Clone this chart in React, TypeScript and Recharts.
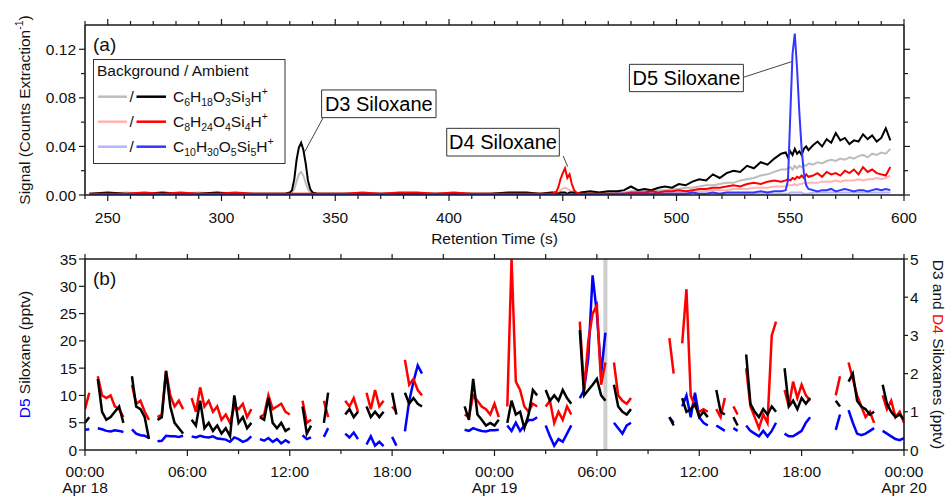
import React from 'react';
import { LineChart, Line, XAxis, YAxis, ReferenceLine, ReferenceArea } from 'recharts';

const FONT = '"Liberation Sans", Arial, Helvetica, sans-serif';
const INK = '#1a1a1a';
const FS = 15.5;

// ---------- (a) chromatogram: retention time (s) vs signal ----------
const retentionTime = [
  242, 250, 258, 266, 274, 282, 290, 298, 306, 314, 322, 328,
  330, 331, 332, 333, 334, 335, 336, 337, 338, 339, 340,
  342, 346,
  354, 362, 370, 378, 386, 394, 402, 410, 418, 426, 434,
  440, 445,
  447, 448, 449, 450, 451, 452, 453, 454, 455, 456,
  458, 462, 466, 470,
  474, 477, 480, 483, 486, 489, 492, 495, 498, 501, 504, 507, 510, 513, 516, 519, 522, 525, 528, 531, 534, 537, 540, 543, 546,
  548, 549, 550, 551, 552, 553, 554, 555, 556, 557, 558,
  560, 562, 564, 566, 568, 570, 572, 574, 576, 578, 580, 582, 584, 586, 588, 590, 592, 594,
];

const d3Background = [
  0.001, 0.001, 0.002, 0.001, 0.001, 0.001, 0.002, 0.001, 0.001, 0.001, 0.001, 0.001,
  0.001, 0.002, 0.005, 0.011, 0.017, 0.019, 0.016, 0.010, 0.005, 0.002, 0.001,
  0.001, 0.001,
  0.001, 0.001, 0.001, 0.001, 0.001, 0.001, 0.001, 0.001, 0.001, 0.001, 0.001,
  0.001, 0.001,
  0.001, 0.001, 0.001, 0.001, 0.001, 0.001, 0.001, 0.001, 0.001, 0.001,
  0.002, 0.002, 0.002, 0.002,
  0.002, 0.002, 0.003, 0.003, 0.003, 0.004, 0.004, 0.004, 0.005, 0.005, 0.006, 0.006, 0.007, 0.008, 0.008, 0.009, 0.010, 0.010, 0.012, 0.013, 0.014, 0.016, 0.017, 0.019, 0.021,
  0.021, 0.022, 0.023, 0.021, 0.024, 0.022, 0.024, 0.023, 0.025, 0.024, 0.026,
  0.025, 0.027, 0.026, 0.028, 0.029, 0.028, 0.030, 0.029, 0.031, 0.030, 0.032, 0.033, 0.031, 0.034, 0.033, 0.035, 0.034, 0.038,
];

const d3Ambient = [
  0.001, 0.002, 0.001, 0.001, 0.002, 0.001, 0.001, 0.002, 0.001, 0.001, 0.001, 0.001,
  0.002, 0.004, 0.013, 0.029, 0.039, 0.043, 0.037, 0.026, 0.012, 0.005, 0.002,
  0.001, 0.001,
  0.001, 0.001, 0.001, 0.001, 0.001, 0.001, 0.001, 0.001, 0.001, 0.002, 0.002,
  0.001, 0.002,
  0.002, 0.001, 0.002, 0.002, 0.002, 0.001, 0.002, 0.002, 0.002, 0.001,
  0.002, 0.003, 0.002, 0.003,
  0.003, 0.004, 0.007, 0.004, 0.005, 0.004, 0.006, 0.007, 0.006, 0.009, 0.008, 0.011, 0.013, 0.012, 0.017, 0.014, 0.018, 0.020, 0.019, 0.024, 0.022, 0.027, 0.025, 0.030, 0.034,
  0.035, 0.031, 0.036, 0.033, 0.038, 0.034, 0.036, 0.033, 0.038, 0.040, 0.037,
  0.041, 0.044, 0.040, 0.046, 0.043, 0.051, 0.045, 0.047, 0.042, 0.045, 0.044, 0.050, 0.046, 0.049, 0.044, 0.047, 0.055, 0.045,
];

const d4Background = [
  0.001, 0.001, 0.001, 0.001, 0.001, 0.001, 0.001, 0.001, 0.001, 0.001, 0.001, 0.001,
  0.001, 0.001, 0.001, 0.001, 0.001, 0.001, 0.001, 0.001, 0.001, 0.001, 0.001,
  0.001, 0.001,
  0.001, 0.001, 0.001, 0.001, 0.001, 0.001, 0.001, 0.001, 0.001, 0.001, 0.001,
  0.001, 0.001,
  0.001, 0.002, 0.004, 0.005, 0.006, 0.005, 0.004, 0.003, 0.002, 0.001,
  0.001, 0.001, 0.001, 0.001,
  0.001, 0.001, 0.001, 0.001, 0.001, 0.002, 0.002, 0.002, 0.002, 0.002, 0.003, 0.003, 0.003, 0.003, 0.004, 0.004, 0.004, 0.005, 0.005, 0.005, 0.006, 0.006, 0.006, 0.007, 0.007,
  0.007, 0.008, 0.008, 0.008, 0.009, 0.008, 0.009, 0.009, 0.010, 0.009, 0.010,
  0.010, 0.010, 0.011, 0.011, 0.011, 0.012, 0.011, 0.012, 0.012, 0.012, 0.013, 0.012, 0.013, 0.013, 0.014, 0.013, 0.014, 0.016,
];

const d4Ambient = [
  0.001, 0.001, 0.001, 0.002, 0.001, 0.002, 0.001, 0.001, 0.002, 0.001, 0.001, 0.001,
  0.001, 0.001, 0.001, 0.001, 0.001, 0.001, 0.001, 0.001, 0.001, 0.001, 0.001,
  0.001, 0.001,
  0.001, 0.002, 0.001, 0.002, 0.002, 0.001, 0.002, 0.001, 0.001, 0.001, 0.001,
  0.001, 0.001,
  0.002, 0.006, 0.013, 0.018, 0.022, 0.014, 0.017, 0.009, 0.004, 0.002,
  0.001, 0.001, 0.001, 0.001,
  0.001, 0.001, 0.002, 0.002, 0.002, 0.003, 0.002, 0.003, 0.003, 0.004, 0.003, 0.004, 0.005, 0.005, 0.006, 0.006, 0.007, 0.008, 0.007, 0.009, 0.010, 0.009, 0.011, 0.012, 0.011,
  0.012, 0.013, 0.012, 0.014, 0.013, 0.015, 0.014, 0.016, 0.014, 0.017, 0.015,
  0.016, 0.018, 0.015, 0.019, 0.017, 0.018, 0.016, 0.020, 0.018, 0.021, 0.017, 0.023, 0.019, 0.021, 0.018, 0.017, 0.016, 0.023,
];

const d5Background = [
  0.0005, 0.0005, 0.0005, 0.0005, 0.0005, 0.0005, 0.0005, 0.0005, 0.0005, 0.0005, 0.0005, 0.0005,
  0.0005, 0.0005, 0.0005, 0.0005, 0.0005, 0.0005, 0.0005, 0.0005, 0.0005, 0.0005, 0.0005,
  0.0005, 0.0005,
  0.0005, 0.0005, 0.0005, 0.0005, 0.0005, 0.0005, 0.0005, 0.0005, 0.0005, 0.0005, 0.0005,
  0.0005, 0.0005,
  0.0005, 0.0005, 0.0005, 0.0005, 0.0005, 0.0005, 0.0005, 0.0005, 0.0005, 0.0005,
  0.0005, 0.0005, 0.0005, 0.0005,
  0.001, 0.001, 0.001, 0.001, 0.001, 0.001, 0.001, 0.001, 0.001, 0.001, 0.001, 0.001, 0.001, 0.001, 0.001, 0.001, 0.001, 0.001, 0.001, 0.001, 0.001, 0.001, 0.001, 0.001, 0.001,
  0.001, 0.001, 0.002, 0.002, 0.002, 0.002, 0.002, 0.002, 0.001, 0.001, 0.001,
  0.002, 0.002, 0.002, 0.002, 0.002, 0.002, 0.002, 0.002, 0.002, 0.002, 0.002, 0.002, 0.002, 0.002, 0.002, 0.002, 0.002, 0.002,
];

const d5Ambient = [
  0.0005, 0.0005, 0.0005, 0.0005, 0.0005, 0.0005, 0.0005, 0.0005, 0.0005, 0.0005, 0.0005, 0.0005,
  0.0005, 0.0005, 0.0005, 0.0005, 0.0005, 0.0005, 0.0005, 0.0005, 0.0005, 0.0005, 0.0005,
  0.0005, 0.0005,
  0.0005, 0.0005, 0.0005, 0.0005, 0.0005, 0.0005, 0.0005, 0.0005, 0.0005, 0.0005, 0.0005,
  0.0005, 0.0005,
  0.0005, 0.0005, 0.0005, 0.0005, 0.0005, 0.0005, 0.0005, 0.0005, 0.0005, 0.0005,
  0.0005, 0.0005, 0.0005, 0.0005,
  0.001, 0.001, 0.001, 0.001, 0.001, 0.001, 0.001, 0.001, 0.001, 0.001, 0.001, 0.002, 0.001, 0.001, 0.002, 0.001, 0.002, 0.002, 0.002, 0.002, 0.002, 0.003, 0.002, 0.003, 0.003,
  0.004, 0.012, 0.065, 0.116, 0.133, 0.104, 0.068, 0.038, 0.018, 0.008, 0.005,
  0.004, 0.003, 0.004, 0.004, 0.005, 0.003, 0.004, 0.005, 0.004, 0.003, 0.004, 0.004, 0.003, 0.004, 0.005, 0.004, 0.005, 0.004,
];

const rtTicks = [
  240, 250, 260, 270, 280, 290, 300, 310, 320, 330, 340, 350, 360, 370, 380, 390, 400, 410, 420,
  430, 440, 450, 460, 470, 480, 490, 500, 510, 520, 530, 540, 550, 560, 570, 580, 590, 600,
];
const signalTicks = [0, 0.02, 0.04, 0.06, 0.08, 0.1, 0.12];
const signalLabels = ['0.00', '', '0.04', '', '0.08', '', '0.12'];

// ---------- (b) ambient siloxanes, 15 min samples from Apr 18 00:00 ----------
// D5 in pptv on the left axis
const d5Pptv = [
  3.7, 3.8, null, 4.0,
  3.8, 3.5, 3.4, 3.6,
  3.5, 3.3, null, 3.8,
  3.0, 2.7, 2.6, 2.2,
  null, 1.6, 1.7, 2.6,
  2.5, 2.5, 2.4, 2.6,
  null, 2.5, 2.3, 2.6,
  2.4, 2.3, 2.5, 2.1,
  2.0, 1.9, 1.5, 2.3,
  2.0, 1.5, 1.8, 2.5,
  null, 2.0, 1.7, 2.2,
  1.5, 2.0, 1.2, 1.8,
  1.3, null, null, 2.7,
  2.0, 2.3, null, null,
  2.4, 4.0, null, null,
  null, 3.0, 2.3, 3.2,
  2.0, null, 1.0, 2.5,
  0.8, 1.5, 0.7, null,
  2.4, 0.8, null, 3.4,
  9.0, 12.5, 15.5, 14.0,
  null, null, null, null,
  null, null, null, null,
  null, 3.7, 3.5, 4.0,
  3.7, 3.5, 3.4, 3.6,
  3.6, 3.7, null, 4.5,
  3.5, 5.0, 3.5, 4.5,
  5.5, 5.5, 6.0, null,
  4.5, 2.5, 0.8, 2.0,
  1.5, 3.0, 4.5, null,
  9.5, 11.0, 17.0, 32.0,
  25.0, 14.0, 21.5, null,
  5.0, 4.0, 3.0, 4.5,
  5.0, null, null, null,
  null, null, null, null,
  null, 6.0, 5.0, null,
  8.0, 10.0, 6.0, 10.5,
  6.0, 5.0, 4.5, null,
  4.5, 4.0, 3.5, null,
  4.0, 3.5, null, 4.5,
  3.5, 3.0, 2.5, 3.5,
  2.5, 3.5, 5.0, null,
  3.0, 2.5, 2.5, 3.0,
  3.5, 5.0, 6.0, null,
  null, null, null, null,
  3.7, 6.5, null, 7.3,
  5.0, 3.0, 2.7, 3.0,
  3.5, 4.0, null, 3.5,
  3.0, 2.5, 2.0, 1.8,
  2.2,
];

// D4 in pptv on the right axis
const d4Pptv = [
  1.07, 1.5, null, 1.93,
  1.43, 1.36, 1.43, 1.14,
  1.07, 0.86, null, 1.71,
  1.21, 1.29, 1.0, 0.79,
  null, 0.86, 0.93, 2.07,
  1.43, 1.14, 1.29, 1.07,
  null, 1.36, 1.0, 1.64,
  1.14, 1.29, 1.0, 1.14,
  0.79, 0.93, 0.71, 1.14,
  1.07, 1.21, 0.86, 1.07,
  null, 0.86, 0.93, 1.43,
  1.07, 1.14, 1.21, 1.0,
  0.93, null, null, 1.29,
  0.71, 0.79, null, null,
  1.29, 0.86, null, null,
  null, 1.29, 1.14, 1.36,
  1.0, null, 1.5, 1.07,
  1.57, 1.14, 1.29, null,
  1.14, 1.0, null, 2.36,
  1.71, 1.86, 1.57, 1.43,
  null, null, null, null,
  null, null, null, null,
  null, 0.93, 0.86, 1.43,
  1.29, 1.14, 1.07, 0.93,
  1.21, 0.86, null, 1.14,
  5.0, 1.79, 1.57, 1.14,
  1.0, 1.21, 1.14, null,
  1.14, 1.29, 0.71, 1.0,
  0.79, 1.14, 0.93, null,
  3.36, 1.57, 2.86, 3.57,
  3.79, 1.71, 2.29, null,
  2.29, 1.43, 1.29, 1.21,
  1.36, null, null, null,
  null, null, null, null,
  null, 2.93, 2.0, null,
  2.79, 4.21, 1.43, 1.14,
  1.0, 1.07, 1.0, null,
  1.07, 0.86, 1.36, null,
  1.14, 0.93, null, 2.14,
  1.14, 0.86, 0.57, 0.93,
  0.71, 3.0, 3.36, null,
  1.57, 1.14, 1.79, 1.36,
  1.71, 1.43, 1.29, null,
  null, null, null, null,
  1.43, 1.93, null, 2.29,
  1.86, 1.43, 1.14, 0.86,
  1.0, 0.71, null, 1.43,
  1.07, 1.29, 0.86, 1.0,
  0.71,
];

// D3 in pptv on the right axis
const d3Pptv = [
  0.71, 0.86, null, 1.86,
  1.0, 0.79, 0.86, 1.0,
  1.14, 0.71, null, 1.93,
  1.14, 1.07, 0.86, 0.29,
  null, 0.79, 0.86, 2.07,
  1.14, 0.71, 0.57, 0.43,
  null, 0.79, 0.64, 1.29,
  0.57, 0.71, 0.5, 0.64,
  0.43, 0.57, 0.36, 1.43,
  0.71, 0.86, 0.57, 0.71,
  null, 0.86, 0.79, 1.36,
  0.71, 0.57, 0.71, 0.5,
  0.57, null, null, 1.14,
  0.43, 0.64, null, null,
  0.71, 1.5, null, null,
  null, 0.93, 1.07, 0.86,
  1.0, null, 1.14, 0.86,
  1.0, 0.86, 1.0, null,
  1.5, 0.93, null, 1.5,
  1.21, 1.36, 1.21, 1.14,
  null, null, null, null,
  null, null, null, null,
  null, 1.14, 0.79, 1.86,
  0.93, 0.79, 0.64, 0.71,
  0.64, 0.79, null, 0.71,
  1.29, 0.93, 1.0, 0.57,
  0.93, 1.57, 1.43, null,
  1.57, 1.29, 1.43, 1.29,
  1.57, 1.36, 1.21, null,
  3.14, 1.43, 1.57, 1.71,
  1.86, 1.43, 1.29, null,
  1.71, 1.14, 1.0, 0.93,
  1.07, null, null, null,
  null, null, null, null,
  null, 0.86, 0.64, null,
  1.36, 1.0, 1.07, 1.21,
  0.86, 1.0, 0.86, null,
  1.57, 1.0, 0.93, null,
  0.86, 0.64, null, 2.5,
  1.21, 1.0, 0.86, 1.07,
  0.93, 1.14, 1.0, null,
  2.14, 1.14, 1.29, 1.07,
  1.36, 1.21, 1.36, null,
  null, null, null, null,
  1.29, 1.14, null, 1.79,
  2.0, 1.29, 1.14, 1.07,
  0.93, 1.0, null, 1.71,
  1.21, 1.0, 0.86, 0.93,
  0.79,
];

const hourTicks = [0, 3, 6, 9, 12, 15, 18, 21, 24, 27, 30, 33, 36, 39, 42, 45, 48];
const clockLabels: Record<number, string> = {
  0: '00:00', 6: '06:00', 12: '12:00', 18: '18:00', 24: '00:00',
  30: '06:00', 36: '12:00', 42: '18:00', 48: '00:00',
};
const dayLabels: Record<number, string> = { 0: 'Apr 18', 24: 'Apr 19', 48: 'Apr 20' };
const d5Ticks = [0, 5, 10, 15, 20, 25, 30, 35];
const d3d4Ticks = [0, 1, 2, 3, 4, 5];
const grayBarHour = 30.5;

const C = {
  d3Bg: '#bdbdbd', d3: '#000000',
  d4Bg: '#ffb4b4', d4: '#ff0000',
  d5Bg: '#b4b4ff', d5: '#3535ff',
};

const chromData = retentionTime.map((rt, i) => ({
  rt,
  d3Bg: d3Background[i], d3: d3Ambient[i],
  d4Bg: d4Background[i], d4: d4Ambient[i],
  d5Bg: d5Background[i], d5: d5Ambient[i],
}));

const ambientData = d5Pptv.map((v, i) => ({ hour: i * 0.25, d5: v, d4: d4Pptv[i], d3: d3Pptv[i] }));

const axisLine = { stroke: INK, strokeWidth: 1.6 };
const txt = { fontFamily: FONT, fontSize: FS, fill: '#111' };

// ----- tick renderers -----
const rtBottomTick = (p: any) => {
  const v = p.payload.value;
  const major = v % 50 === 0;
  return (
    <g>
      <line x1={p.x} x2={p.x} y1={p.y} y2={p.y + (major ? 6 : 4)} stroke={INK} strokeWidth={1.2} />
      {major && <text {...txt} x={p.x} y={p.y + 28} textAnchor="middle">{v}</text>}
    </g>
  );
};
const rtTopTick = (p: any) => {
  const major = p.payload.value % 50 === 0;
  return <line x1={p.x} x2={p.x} y1={p.y} y2={p.y - (major ? 6 : 4)} stroke={INK} strokeWidth={1.2} />;
};
const signalLeftTick = (p: any) => {
  const label = signalLabels[p.index];
  return (
    <g>
      <line x1={p.x} x2={p.x - (label ? 6 : 4)} y1={p.y} y2={p.y} stroke={INK} strokeWidth={1.2} />
      {label && <text {...txt} x={p.x - 9} y={p.y + 5.5} textAnchor="end">{label}</text>}
    </g>
  );
};
const signalRightTick = (p: any) => {
  const label = signalLabels[p.index];
  return <line x1={p.x} x2={p.x + (label ? 6 : 4)} y1={p.y} y2={p.y} stroke={INK} strokeWidth={1.2} />;
};
const hourBottomTick = (p: any) => {
  const v = p.payload.value;
  const clock = clockLabels[v];
  const day = dayLabels[v];
  return (
    <g>
      <line x1={p.x} x2={p.x} y1={p.y} y2={p.y + (clock ? 6 : 4)} stroke={INK} strokeWidth={1.2} />
      {clock && <text {...txt} x={p.x} y={p.y + 27} textAnchor="middle">{clock}</text>}
      {day && <text {...txt} x={p.x} y={p.y + 43} textAnchor="middle">{day}</text>}
    </g>
  );
};
const hourTopTick = (p: any) => (
  <line x1={p.x} x2={p.x} y1={p.y} y2={p.y - 5} stroke={INK} strokeWidth={1.2} />
);
const d5LeftTick = (p: any) => (
  <g>
    <line x1={p.x} x2={p.x - 6} y1={p.y} y2={p.y} stroke={INK} strokeWidth={1.2} />
    <text {...txt} x={p.x - 8} y={p.y + 5.5} textAnchor="end">{p.payload.value}</text>
  </g>
);
const d3d4RightTick = (p: any) => (
  <g>
    <line x1={p.x} x2={p.x + 4} y1={p.y} y2={p.y} stroke={INK} strokeWidth={1.2} />
    <text {...txt} x={p.x + 6} y={p.y + 5.5} textAnchor="start">{p.payload.value}</text>
  </g>
);

const noAutoTick = { tickSize: 0, tickMargin: 0, tickLine: false, interval: 0 as const, allowDataOverflow: true };

// ----- chemical formula with sub/superscripts -----
type Part = [string, 'n' | 'sub' | 'sup'];
const formulaD3: Part[] = [['C', 'n'], ['6', 'sub'], ['H', 'n'], ['18', 'sub'], ['O', 'n'], ['3', 'sub'], ['Si', 'n'], ['3', 'sub'], ['H', 'n'], ['+', 'sup']];
const formulaD4: Part[] = [['C', 'n'], ['8', 'sub'], ['H', 'n'], ['24', 'sub'], ['O', 'n'], ['4', 'sub'], ['Si', 'n'], ['4', 'sub'], ['H', 'n'], ['+', 'sup']];
const formulaD5: Part[] = [['C', 'n'], ['10', 'sub'], ['H', 'n'], ['30', 'sub'], ['O', 'n'], ['5', 'sub'], ['Si', 'n'], ['5', 'sub'], ['H', 'n'], ['+', 'sup']];

function Formula({ x, y, parts }: { x: number; y: number; parts: Part[] }) {
  let off = 0;
  return (
    <text x={x} y={y} fontFamily={FONT} fontSize={FS} fill="#111">
      {parts.map(([t, k], i) => {
        const target = k === 'sub' ? 4 : k === 'sup' ? -7 : 0;
        const dy = target - off;
        off = target;
        return <tspan key={i} dy={dy} fontSize={k === 'n' ? FS : 10.5}>{t}</tspan>;
      })}
    </text>
  );
}

const legendRows = [
  { bg: C.d3Bg, amb: C.d3, parts: formulaD3 },
  { bg: C.d4Bg, amb: C.d4, parts: formulaD4 },
  { bg: C.d5Bg, amb: C.d5, parts: formulaD5 },
];

// annotation boxes in data coordinates (retention time, signal)
const annotations = [
  { text: 'D3 Siloxane', x1: 344.0, x2: 394.3, y1: 0.0637, y2: 0.0865, from: { x: 344.7, y: 0.0637 }, to: { x: 336.6, y: 0.0357 } },
  { text: 'D4 Siloxane', x1: 399.0, x2: 448.5, y1: 0.0321, y2: 0.0549, from: { x: 450.2, y: 0.0321 }, to: { x: 452.2, y: 0.0233 } },
  { text: 'D5 Siloxane', x1: 479.3, x2: 529.4, y1: 0.0851, y2: 0.1076, from: { x: 529.4, y: 0.0969 }, to: { x: 550.6, y: 0.1098 } },
];

function Chromatogram() {
  const series = [
    { key: 'd3Bg', color: C.d3Bg }, { key: 'd4Bg', color: C.d4Bg }, { key: 'd5Bg', color: C.d5Bg },
    { key: 'd3', color: C.d3 }, { key: 'd4', color: C.d4 }, { key: 'd5', color: C.d5 },
  ];
  return (
    <LineChart width={947} height={250} data={chromData} margin={{ top: 24, right: 42, bottom: 54, left: 84 }}>
      <XAxis xAxisId="b" dataKey="rt" type="number" domain={[240, 600]} ticks={rtTicks} height={1}
        axisLine={axisLine} tick={rtBottomTick} {...noAutoTick} />
      <XAxis xAxisId="t" orientation="top" dataKey="rt" type="number" domain={[240, 600]} ticks={rtTicks} height={1}
        axisLine={axisLine} tick={rtTopTick} {...noAutoTick} />
      <YAxis yAxisId="l" type="number" domain={[0, 0.14]} ticks={signalTicks} width={1}
        axisLine={axisLine} tick={signalLeftTick} {...noAutoTick} />
      <YAxis yAxisId="r" orientation="right" type="number" domain={[0, 0.14]} ticks={signalTicks} width={1}
        axisLine={axisLine} tick={signalRightTick} {...noAutoTick} />
      {annotations.map((a) => (
        <ReferenceArea key={a.text} xAxisId="b" yAxisId="l" x1={a.x1} x2={a.x2} y1={a.y1} y2={a.y2}
          fill="#fff" fillOpacity={1} stroke="#333" strokeWidth={1}
          label={{ value: a.text, position: 'center', fontSize: 20, fill: '#000', fontFamily: FONT }} />
      ))}
      {annotations.map((a) => (
        <ReferenceLine key={a.text + '-l'} xAxisId="b" yAxisId="l" segment={[a.from, a.to]} stroke="#444" strokeWidth={1} />
      ))}
      {series.map((s) => (
        <Line key={s.key} xAxisId="b" yAxisId="l" dataKey={s.key} type="linear" stroke={s.color}
          strokeWidth={2} dot={false} activeDot={false} isAnimationActive={false} />
      ))}
    </LineChart>
  );
}

function Ambient() {
  return (
    <LineChart width={947} height={249} data={ambientData} margin={{ top: 8, right: 42, bottom: 48, left: 84 }}>
      <XAxis xAxisId="b" dataKey="hour" type="number" domain={[0, 48]} ticks={hourTicks} height={1}
        axisLine={axisLine} tick={hourBottomTick} {...noAutoTick} />
      <XAxis xAxisId="t" orientation="top" dataKey="hour" type="number" domain={[0, 48]} ticks={hourTicks} height={1}
        axisLine={axisLine} tick={hourTopTick} {...noAutoTick} />
      <YAxis yAxisId="l" type="number" domain={[0, 35]} ticks={d5Ticks} width={1}
        axisLine={axisLine} tick={d5LeftTick} {...noAutoTick} />
      <YAxis yAxisId="r" orientation="right" type="number" domain={[0, 5]} ticks={d3d4Ticks} width={1}
        axisLine={axisLine} tick={d3d4RightTick} {...noAutoTick} />
      <ReferenceLine xAxisId="b" yAxisId="l" x={grayBarHour} stroke="#cdcdcd" strokeWidth={4} />
      <Line xAxisId="b" yAxisId="l" dataKey="d5" type="linear" stroke="#0000ff" strokeWidth={2.5}
        dot={false} activeDot={false} isAnimationActive={false} />
      <Line xAxisId="b" yAxisId="r" dataKey="d4" type="linear" stroke="#ff0000" strokeWidth={2.5}
        dot={false} activeDot={false} isAnimationActive={false} />
      <Line xAxisId="b" yAxisId="r" dataKey="d3" type="linear" stroke="#000000" strokeWidth={2.5}
        dot={false} activeDot={false} isAnimationActive={false} />
    </LineChart>
  );
}

function Overlay() {
  return (
    <svg width={947} height={499} style={{ position: 'absolute', left: 0, top: 0, pointerEvents: 'none' }}>
      <text x={93} y={51} fontFamily={FONT} fontSize={19} fill="#111">(a)</text>
      <rect x={93.5} y={59.5} width={191.5} height={104} fill="#fff" stroke="#333" strokeWidth={1} />
      <text {...txt} x={97} y={76}>Background / Ambient</text>
      {legendRows.map((r, i) => {
        const y = 96.7 + i * 25;
        return (
          <g key={i}>
            <line x1={98} x2={127} y1={y} y2={y} stroke={r.bg} strokeWidth={2.5} />
            <text {...txt} x={129.5} y={y + 5.5}>/</text>
            <line x1={136.5} x2={166} y1={y} y2={y} stroke={r.amb} strokeWidth={2.5} />
            <Formula x={173} y={y + 5.5} parts={r.parts} />
          </g>
        );
      })}
      <text {...txt} x={30} y={110} textAnchor="middle" transform="rotate(-90 30 110)">
        Signal (Counts Extraction<tspan dy={-7} fontSize={10.5}>-1</tspan><tspan dy={7}>)</tspan>
      </text>
      <text {...txt} x={494.5} y={244} textAnchor="middle">Retention Time (s)</text>

      <text x={93} y={285} fontFamily={FONT} fontSize={19} fill="#111">(b)</text>
      <text {...txt} x={30} y={354.5} textAnchor="middle" transform="rotate(-90 30 354.5)">
        <tspan fill="#0000ff">D5</tspan> Siloxane (pptv)
      </text>
      <text {...txt} x={933} y={354.5} textAnchor="middle" transform="rotate(90 933 354.5)">
        D3 and <tspan fill="#ff0000">D4</tspan> Siloxanes (pptv)
      </text>
    </svg>
  );
}

export default function App() {
  return (
    <div style={{ position: 'absolute', left: 0, top: 0, width: 947, height: 499, background: '#fff', fontFamily: FONT }}>
      <div style={{ position: 'absolute', left: 0, top: 0 }}>
        <Chromatogram />
      </div>
      <div style={{ position: 'absolute', left: 0, top: 250 }}>
        <Ambient />
      </div>
      <Overlay />
    </div>
  );
}
